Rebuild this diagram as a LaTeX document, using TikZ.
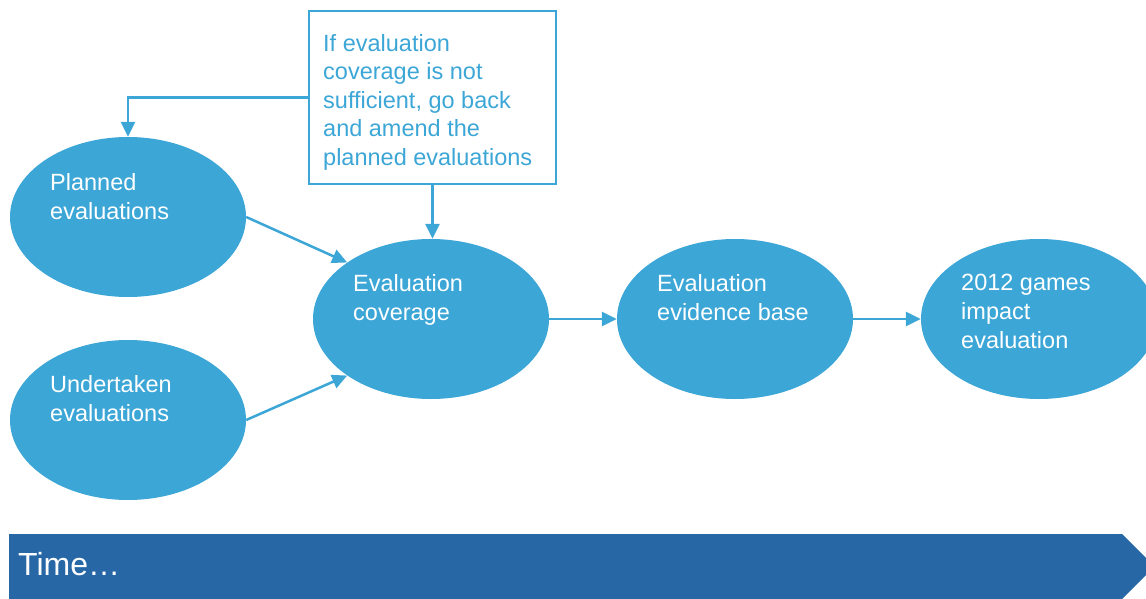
\documentclass[tikz,border=0pt]{standalone}
\usepackage{fontspec}
\setmainfont{Liberation Sans}
\usepackage{tikz}
\usetikzlibrary{shapes.geometric, arrows.meta, positioning, calc}
\definecolor{evalblue}{HTML}{3CA6D7}
\definecolor{timeblue}{HTML}{2767A6}

\tikzset{
  evalnode/.style={ellipse, fill=evalblue, minimum width=236pt, minimum height=160pt, inner sep=0pt},
  evaltext/.style={white, anchor=north west, align=left, inner sep=0pt, font=\fontsize{23.5}{29}\selectfont},
  flow/.style={evalblue, line width=2.5pt, -{Triangle[length=15pt, width=14pt]}}
}

\begin{document}
\begin{tikzpicture}[x=1pt, y=-1pt]
  \useasboundingbox (0,0) rectangle (1146,599);

  % Evaluation stages
  \node[evalnode] (planned) at (128,217) {};
  \node[evalnode] (undertaken) at (128,420) {};
  \node[evalnode] (coverage) at (431,319) {};
  \node[evalnode] (evidence) at (735,319) {};
  \node[evalnode] (impact) at (1039,319) {};

  % Stage labels
  \node[evaltext] (planned-txt) at (50,173) {Planned\\evaluations};
  \node[evaltext] (undertaken-txt) at (50,375) {Undertaken\\evaluations};
  \node[evaltext] (coverage-txt) at (353,274) {Evaluation\\coverage};
  \node[evaltext] (evidence-txt) at (657,274) {Evaluation\\evidence base};
  \node[evaltext] (impact-txt) at (961,274) {2012 games\\impact\\evaluation};

  % Feedback note
  \node[draw=evalblue, line width=1.5pt, minimum width=247pt, minimum height=173pt] (note) at (432.5,97.5) {};
  \node[evaltext, evalblue, font=\fontsize{23.5}{28.5}\selectfont] (note-txt) at (323,34)
        {If evaluation\\coverage is not\\sufficient, go back\\and amend the\\planned evaluations};

  % Connectors
  \draw[flow] (planned.east) -- (coverage.146);
  \draw[flow] (undertaken.east) -- (coverage.214);
  \draw[flow] (coverage.east) -- (evidence.west);
  \draw[flow] (evidence.east) -- (impact.west);
  \draw[flow] (note.south) -- (note.south |- coverage.north);
  \draw[flow] (note.west) -| (planned.north);

  % Time bar
  \fill[timeblue] (9,534) -- (1122,534) -- (1154.5,566.5) -- (1122,599) -- (9,599) -- cycle;
  \node[white, font=\fontsize{32}{38}\selectfont, anchor=base west, inner sep=0pt] (time) at (18,575) {Time…};
\end{tikzpicture}
\end{document}
